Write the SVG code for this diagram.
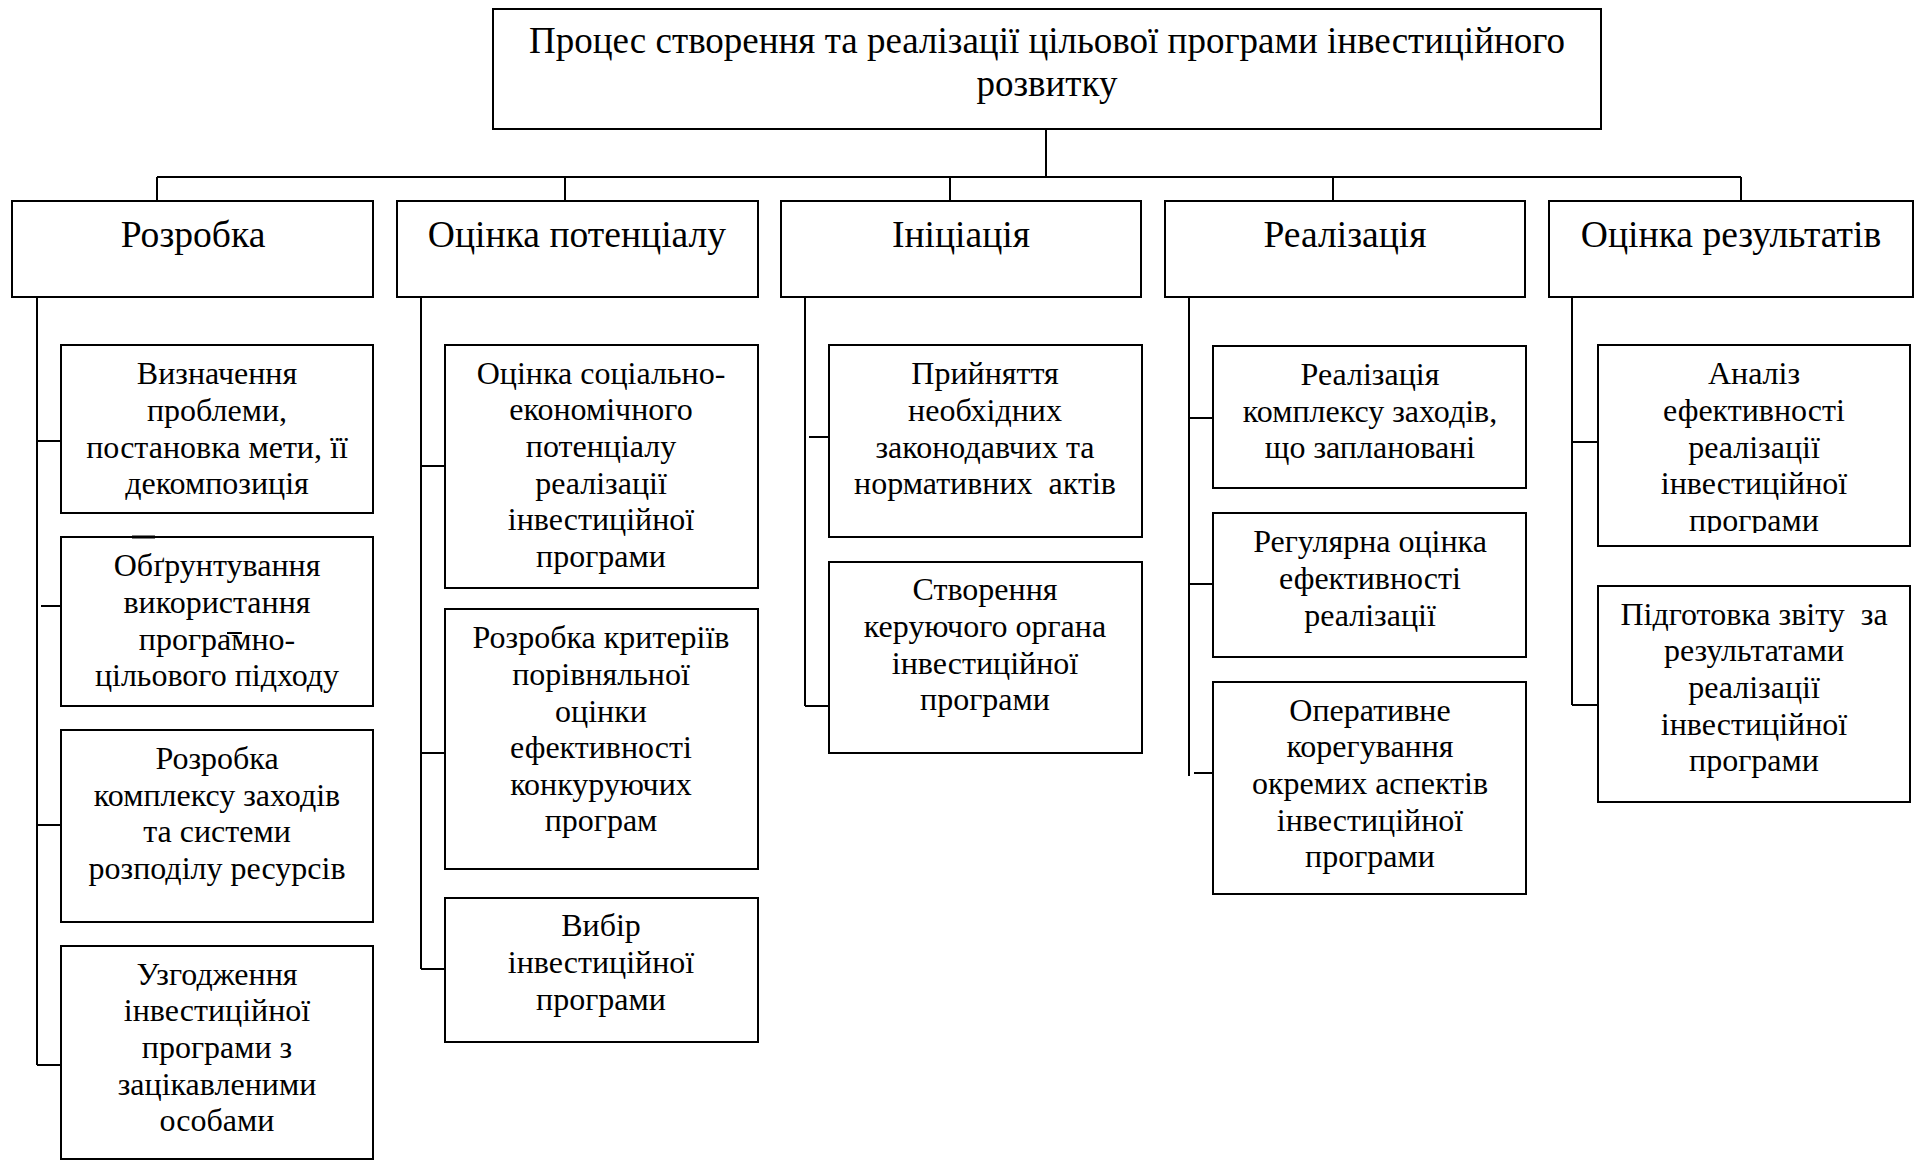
<svg xmlns="http://www.w3.org/2000/svg" width="1919" height="1161" viewBox="0 0 1919 1161">
  <style>
    .box { fill: #fff; stroke: #000; stroke-width: 2; }
    .ln { stroke: #000; stroke-width: 2; fill: none; }
    .mark { stroke: #000; stroke-width: 3; }
    text { font-family: "Liberation Serif", "Times New Roman", serif; fill: #000; text-anchor: middle; }
    .t0 { font-size: 37px; }
    .t1 { font-size: 37.6px; }
    .t2 { font-size: 32px; }
  </style>
  <defs>
    <clipPath id="clip-r1">
      <rect x="1597" y="345" width="313" height="188"/>
    </clipPath>
  </defs>
  <rect width="1919" height="1161" fill="#fff"/>

  <!-- connectors -->
  <g id="connectors">
    <line class="ln" x1="1046" y1="129" x2="1046" y2="177"/>
    <line class="ln" x1="157" y1="177" x2="1741" y2="177"/>
    <line class="ln" x1="157" y1="177" x2="157" y2="201"/>
    <line class="ln" x1="565" y1="177" x2="565" y2="201"/>
    <line class="ln" x1="950" y1="177" x2="950" y2="201"/>
    <line class="ln" x1="1333" y1="177" x2="1333" y2="201"/>
    <line class="ln" x1="1741" y1="177" x2="1741" y2="201"/>
    <!-- column 1 -->
    <line class="ln" x1="37" y1="297" x2="37" y2="1065"/>
    <line class="ln" x1="37" y1="441" x2="61" y2="441"/>
    <line class="ln" x1="41" y1="606" x2="64" y2="606"/>
    <line class="ln" x1="37" y1="825" x2="61" y2="825"/>
    <line class="ln" x1="37" y1="1065" x2="61" y2="1065"/>
    <!-- column 2 -->
    <line class="ln" x1="421" y1="297" x2="421" y2="969"/>
    <line class="ln" x1="421" y1="466" x2="445" y2="466"/>
    <line class="ln" x1="421" y1="753" x2="445" y2="753"/>
    <line class="ln" x1="421" y1="969" x2="445" y2="969"/>
    <!-- column 3 -->
    <line class="ln" x1="805" y1="297" x2="805" y2="706"/>
    <line class="ln" x1="809" y1="437" x2="832" y2="437"/>
    <line class="ln" x1="805" y1="706" x2="829" y2="706"/>
    <!-- column 4 -->
    <line class="ln" x1="1189" y1="297" x2="1189" y2="776"/>
    <line class="ln" x1="1189" y1="418" x2="1213" y2="418"/>
    <line class="ln" x1="1189" y1="584" x2="1213" y2="584"/>
    <line class="ln" x1="1194" y1="773" x2="1217" y2="773"/>
    <!-- column 5 -->
    <line class="ln" x1="1572" y1="297" x2="1572" y2="705"/>
    <line class="ln" x1="1572" y1="442" x2="1598" y2="442"/>
    <line class="ln" x1="1572" y1="705" x2="1598" y2="705"/>
  </g>

  <!-- root -->
  <g id="root">
    <rect class="box" x="493" y="9" width="1108" height="120"/>
    <text class="t0" x="1047" y="53">Процес створення та реалізації цільової програми інвестиційного</text>
    <text class="t0" x="1047" y="96">розвитку</text>
  </g>

  <!-- stages -->
  <g id="stage-1">
    <rect class="box" x="12" y="201" width="361" height="96"/>
    <text class="t1" x="193" y="247">Розробка</text>
  </g>
  <g id="stage-2">
    <rect class="box" x="397" y="201" width="361" height="96"/>
    <text class="t1" x="577" y="247">Оцінка потенціалу</text>
  </g>
  <g id="stage-3">
    <rect class="box" x="781" y="201" width="360" height="96"/>
    <text class="t1" x="961" y="247">Ініціація</text>
  </g>
  <g id="stage-4">
    <rect class="box" x="1165" y="201" width="360" height="96"/>
    <text class="t1" x="1345" y="247">Реалізація</text>
  </g>
  <g id="stage-5">
    <rect class="box" x="1549" y="201" width="364" height="96"/>
    <text class="t1" x="1731" y="247">Оцінка результатів</text>
  </g>

  <!-- column 1 steps -->
  <g id="s1-1">
    <rect class="box" x="61" y="345" width="312" height="168"/>
    <text class="t2" x="217" y="384">Визначення</text>
    <text class="t2" x="217" y="421">проблеми,</text>
    <text class="t2" x="217" y="458">постановка мети, її</text>
    <text class="t2" x="217" y="494">декомпозиція</text>
  </g>
  <g id="s1-2">
    <rect class="box" x="61" y="537" width="312" height="169"/>
    <line class="mark" x1="132" y1="537" x2="155" y2="537"/>
    <line class="ln" x1="227" y1="633" x2="242" y2="633"/>
    <text class="t2" x="217" y="576">Обґрунтування</text>
    <text class="t2" x="217" y="613">використання</text>
    <text class="t2" x="217" y="650">програмно-</text>
    <text class="t2" x="217" y="686">цільового підходу</text>
  </g>
  <g id="s1-3">
    <rect class="box" x="61" y="730" width="312" height="192"/>
    <text class="t2" x="217" y="769">Розробка</text>
    <text class="t2" x="217" y="806">комплексу заходів</text>
    <text class="t2" x="217" y="842">та системи</text>
    <text class="t2" x="217" y="879">розподілу ресурсів</text>
  </g>
  <g id="s1-4">
    <rect class="box" x="61" y="946" width="312" height="213"/>
    <text class="t2" x="217" y="985">Узгодження</text>
    <text class="t2" x="217" y="1021">інвестиційної</text>
    <text class="t2" x="217" y="1058">програми з</text>
    <text class="t2" x="217" y="1095">зацікавленими</text>
    <text class="t2" x="217" y="1131">особами</text>
  </g>

  <!-- column 2 steps -->
  <g id="s2-1">
    <rect class="box" x="445" y="345" width="313" height="243"/>
    <text class="t2" x="601" y="384">Оцінка соціально-</text>
    <text class="t2" x="601" y="420">економічного</text>
    <text class="t2" x="601" y="457">потенціалу</text>
    <text class="t2" x="601" y="494">реалізації</text>
    <text class="t2" x="601" y="530">інвестиційної</text>
    <text class="t2" x="601" y="567">програми</text>
  </g>
  <g id="s2-2">
    <rect class="box" x="445" y="609" width="313" height="260"/>
    <text class="t2" x="601" y="648">Розробка критеріїв</text>
    <text class="t2" x="601" y="685">порівняльної</text>
    <text class="t2" x="601" y="722">оцінки</text>
    <text class="t2" x="601" y="758">ефективності</text>
    <text class="t2" x="601" y="795">конкуруючих</text>
    <text class="t2" x="601" y="831">програм</text>
  </g>
  <g id="s2-3">
    <rect class="box" x="445" y="898" width="313" height="144"/>
    <text class="t2" x="601" y="936">Вибір</text>
    <text class="t2" x="601" y="973">інвестиційної</text>
    <text class="t2" x="601" y="1010">програми</text>
  </g>

  <!-- column 3 steps -->
  <g id="s3-1">
    <rect class="box" x="829" y="345" width="313" height="192"/>
    <text class="t2" x="985" y="384">Прийняття</text>
    <text class="t2" x="985" y="421">необхідних</text>
    <text class="t2" x="985" y="458">законодавчих та</text>
    <text class="t2" x="985" y="494" xml:space="preserve">нормативних  актів</text>
  </g>
  <g id="s3-2">
    <rect class="box" x="829" y="562" width="313" height="191"/>
    <text class="t2" x="985" y="600">Створення</text>
    <text class="t2" x="985" y="637">керуючого органа</text>
    <text class="t2" x="985" y="674">інвестиційної</text>
    <text class="t2" x="985" y="710">програми</text>
  </g>

  <!-- column 4 steps -->
  <g id="s4-1">
    <rect class="box" x="1213" y="346" width="313" height="142"/>
    <text class="t2" x="1370" y="385">Реалізація</text>
    <text class="t2" x="1370" y="422">комплексу заходів,</text>
    <text class="t2" x="1370" y="458">що заплановані</text>
  </g>
  <g id="s4-2">
    <rect class="box" x="1213" y="513" width="313" height="144"/>
    <text class="t2" x="1370" y="552">Регулярна оцінка</text>
    <text class="t2" x="1370" y="589">ефективності</text>
    <text class="t2" x="1370" y="626">реалізації</text>
  </g>
  <g id="s4-3">
    <rect class="box" x="1213" y="682" width="313" height="212"/>
    <text class="t2" x="1370" y="721">Оперативне</text>
    <text class="t2" x="1370" y="757">корегування</text>
    <text class="t2" x="1370" y="794">окремих аспектів</text>
    <text class="t2" x="1370" y="831">інвестиційної</text>
    <text class="t2" x="1370" y="867">програми</text>
  </g>

  <!-- column 5 steps -->
  <g id="s5-1">
    <rect class="box" x="1598" y="345" width="312" height="201"/>
    <g clip-path="url(#clip-r1)">
      <text class="t2" x="1754" y="384">Аналіз</text>
      <text class="t2" x="1754" y="421">ефективності</text>
      <text class="t2" x="1754" y="458">реалізації</text>
      <text class="t2" x="1754" y="494">інвестиційної</text>
      <text class="t2" x="1754" y="531">програми</text>
    </g>
  </g>
  <g id="s5-2">
    <rect class="box" x="1598" y="586" width="312" height="216"/>
    <text class="t2" x="1754" y="625" xml:space="preserve">Підготовка звіту  за</text>
    <text class="t2" x="1754" y="661">результатами</text>
    <text class="t2" x="1754" y="698">реалізації</text>
    <text class="t2" x="1754" y="735">інвестиційної</text>
    <text class="t2" x="1754" y="771">програми</text>
  </g>
</svg>
